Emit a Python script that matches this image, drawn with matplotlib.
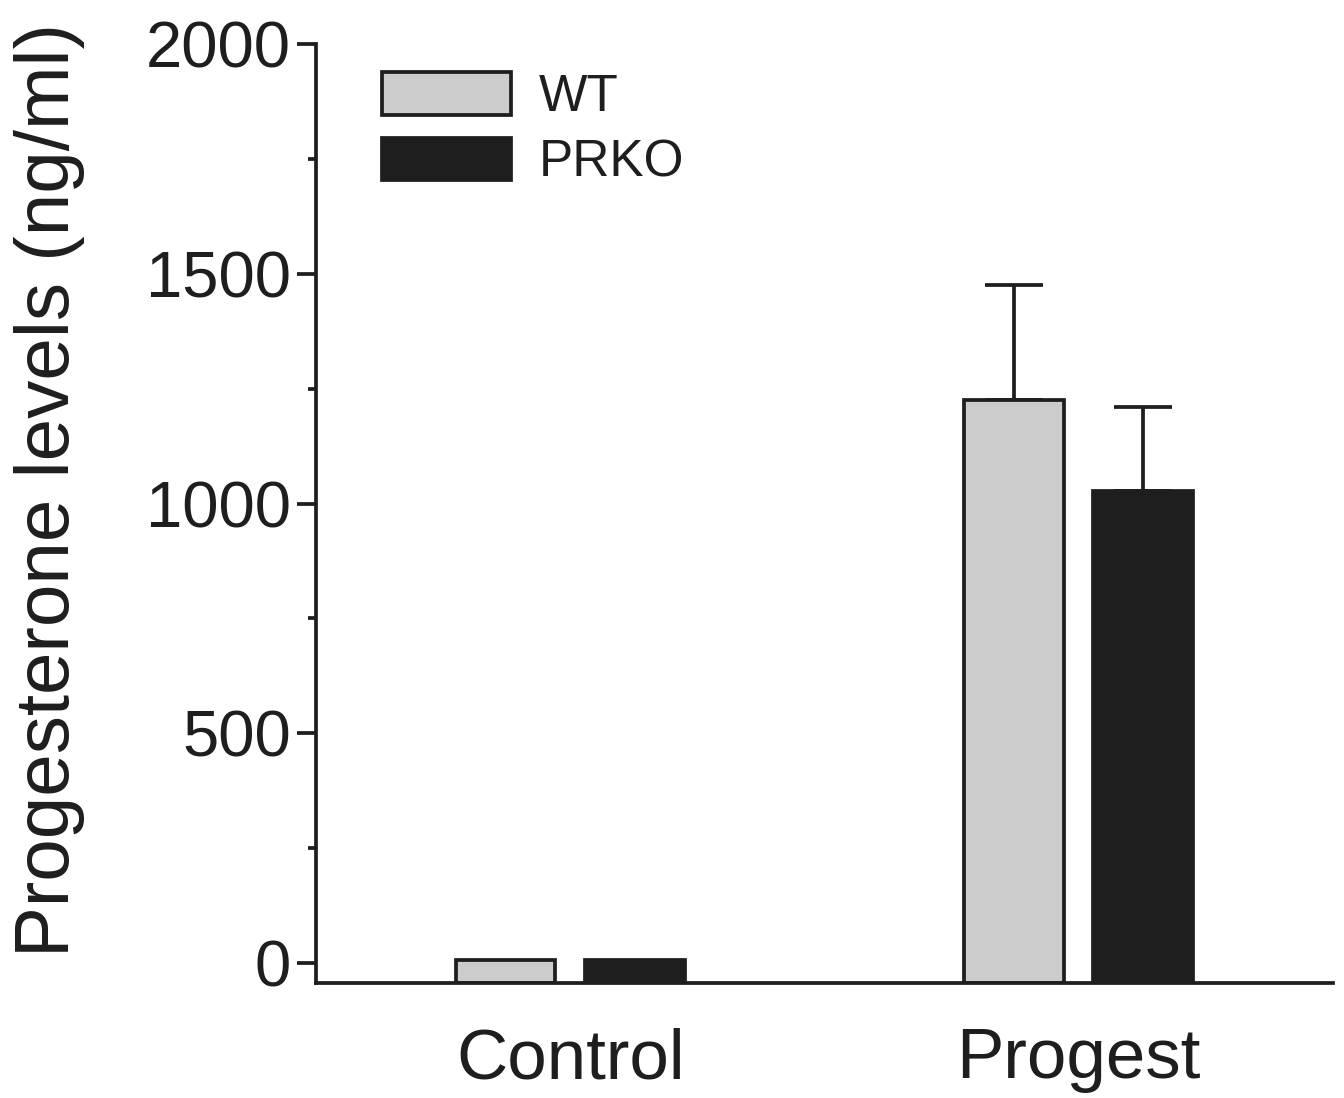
import numpy as np
import matplotlib
matplotlib.use("Agg")
import matplotlib.pyplot as plt
from matplotlib.ticker import MultipleLocator

plt.rcParams['font.family'] = ['Liberation Sans', 'DejaVu Sans']

# data
groups = ['Control', 'Progest']
series = ['WT', 'PRKO']
wt_vals = [7, 1225]
wt_err = [0, 250]
prko_vals = [6, 1027]
prko_err = [0, 183]

ink = '#1e1e1e'
ymin = -43.5
lw = 2.7

fig = plt.figure(figsize=(13.44, 10.98), dpi=100)
ax = fig.add_axes([0.2351, 0.1047, 0.7567, 0.8552])

x = np.arange(len(groups))
w = 0.196
off = 0.127

for xs, vals, errs, col, lab in [(x - off, wt_vals, wt_err, '#cccccc', 'WT'),
                                 (x + off, prko_vals, prko_err, ink, 'PRKO')]:
    vals = np.array(vals, dtype=float)
    ax.bar(xs, vals - ymin, bottom=ymin, width=w, color=col, edgecolor=ink,
           linewidth=lw, label=lab, zorder=2)
    errs = np.array(errs, dtype=float)
    m = errs > 0
    ax.errorbar(xs[m], vals[m], yerr=[np.zeros(m.sum()), errs[m]], fmt='none',
                ecolor=ink, elinewidth=lw, capsize=21, capthick=lw, zorder=1)

ax.set_xlim(-0.5, 1.5)
ax.set_ylim(ymin, 2000)
ax.set_xticks(x)
ax.set_xticklabels(groups)
ax.yaxis.set_major_locator(MultipleLocator(500))
ax.yaxis.set_minor_locator(MultipleLocator(250))
ax.set_yticks([0, 500, 1000, 1500, 2000])

for s in ['top', 'right']:
    ax.spines[s].set_visible(False)
for s in ['left', 'bottom']:
    ax.spines[s].set_linewidth(lw)
    ax.spines[s].set_color(ink)
ax.spines['left'].set_bounds(ymin, 2000)

ax.tick_params(axis='y', which='major', length=14, width=lw, color=ink,
               labelsize=47, labelcolor=ink, pad=4, direction='out')
ax.tick_params(axis='y', which='minor', length=6, width=lw, color=ink)
ax.tick_params(axis='x', length=0, labelsize=51, labelcolor=ink, pad=32)

ax.set_ylabel('Progesterone levels (ng/ml)', fontsize=55, color=ink)
ax.yaxis.set_label_coords(-0.227, 0.525)

leg = ax.legend(loc='upper left', bbox_to_anchor=(0.045, 0.992), frameon=False,
                fontsize=37, handlelength=2.5, handleheight=0.9,
                labelspacing=0.3, handletextpad=0.55, borderaxespad=0)
for t in leg.get_texts():
    t.set_color(ink)

fig.savefig('out.png', dpi=100)
